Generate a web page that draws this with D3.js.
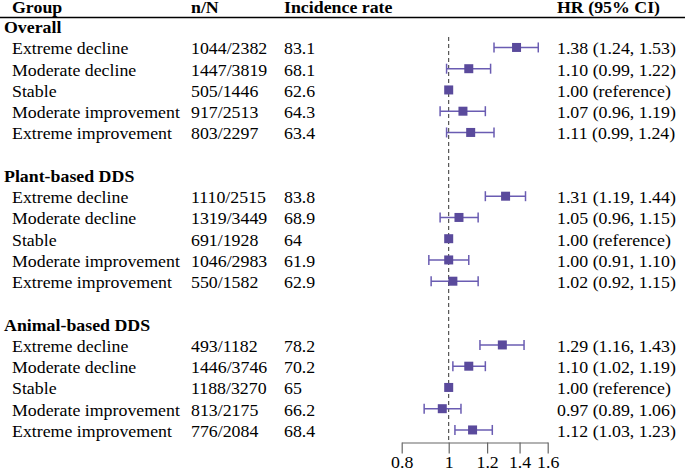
<!DOCTYPE html>
<html><head><meta charset="utf-8">
<script src="https://cdn.jsdelivr.net/npm/d3@7"></script>
<style>body{margin:0;background:#fff}svg{display:block}</style>
</head><body><div id="chart"></div>
<script>
const headers = ["Group", "n/N", "Incidence rate", "HR (95% CI)"];
const sections = ["Overall", "Plant-based DDS", "Animal-based DDS"];
const subgroups = ["Extreme decline", "Moderate decline", "Stable", "Moderate improvement", "Extreme improvement"];
const nN = [
  ["1044/2382", "1447/3819", "505/1446", "917/2513", "803/2297"],
  ["1110/2515", "1319/3449", "691/1928", "1046/2983", "550/1582"],
  ["493/1182", "1446/3746", "1188/3270", "813/2175", "776/2084"]
];
const incidence = [
  ["83.1", "68.1", "62.6", "64.3", "63.4"],
  ["83.8", "68.9", "64", "61.9", "62.9"],
  ["78.2", "70.2", "65", "66.2", "68.4"]
];
const hr = [
  [1.38, 1.10, 1.00, 1.07, 1.11],
  [1.31, 1.05, 1.00, 1.00, 1.02],
  [1.29, 1.10, 1.00, 0.97, 1.12]
];
const lower = [
  [1.24, 0.99, null, 0.96, 0.99],
  [1.19, 0.96, null, 0.91, 0.92],
  [1.16, 1.02, null, 0.89, 1.03]
];
const upper = [
  [1.53, 1.22, null, 1.19, 1.24],
  [1.44, 1.15, null, 1.10, 1.15],
  [1.43, 1.19, null, 1.06, 1.23]
];
const hrLabels = [
  ["1.38 (1.24, 1.53)", "1.10 (0.99, 1.22)", "1.00 (reference)", "1.07 (0.96, 1.19)", "1.11 (0.99, 1.24)"],
  ["1.31 (1.19, 1.44)", "1.05 (0.96, 1.15)", "1.00 (reference)", "1.00 (0.91, 1.10)", "1.02 (0.92, 1.15)"],
  ["1.29 (1.16, 1.43)", "1.10 (1.02, 1.19)", "1.00 (reference)", "0.97 (0.89, 1.06)", "1.12 (1.03, 1.23)"]
];
const tickValues = [0.8, 1, 1.2, 1.4, 1.6];
const tickLabels = ["0.8", "1", "1.2", "1.4", "1.6"];

const W = 685, H = 470;
const FS = 16, SX = 1.115;
const FONT = "'Liberation Serif', 'Times New Roman', serif";
const markColor = "#5a4a9c", lineColor = "#6a5cb2";
const svg = d3.select("#chart").append("svg").attr("width", W).attr("height", H)
  .style("font-family", FONT);

const rows = [];
sections.forEach((s, si) => {
  rows.push({type: "section", label: s});
  subgroups.forEach((g, gi) => rows.push({
    type: "row", label: g, nN: nN[si][gi], inc: incidence[si][gi],
    hr: hr[si][gi], lo: lower[si][gi], hi: upper[si][gi], hrl: hrLabels[si][gi]
  }));
  if (si < sections.length - 1) rows.push({type: "blank"});
});

const y = d3.scaleLinear().domain([0, rows.length - 1]).range([33, 33 + 21.25 * (rows.length - 1)]);
const x = d3.scaleLog().domain([0.8, 1.6]).range([401.7, 547.7]);

function txt(g, xp, yp, s, bold, anchor) {
  return g.append("text")
    .attr("transform", `translate(${xp},${yp}) scale(${SX},1)`)
    .style("font-family", FONT)
    .style("font-size", FS + "px")
    .style("font-weight", bold ? "bold" : "normal")
    .attr("text-anchor", anchor || "start")
    .attr("fill", "#000")
    .text(s);
}

const colX = [12, 191, 284, 557];
headers.forEach((h, i) => txt(svg, colX[i], 13, h, true));
svg.append("line").attr("x1", 0).attr("x2", W).attr("y1", 17.5).attr("y2", 17.5)
  .attr("stroke", "#000").attr("stroke-width", 1.5);

svg.append("line").attr("x1", x(1)).attr("x2", x(1)).attr("y1", 37).attr("y2", 442.5)
  .attr("stroke", "#333").attr("stroke-width", 1).attr("stroke-dasharray", "4,3");

rows.forEach((r, i) => {
  const by = y(i);
  if (r.type === "section") { txt(svg, 4, by, r.label, true); return; }
  if (r.type === "blank") return;
  txt(svg, colX[0], by, r.label, false);
  txt(svg, colX[1], by, r.nN, false);
  txt(svg, colX[2], by, r.inc, false);
  txt(svg, colX[3], by, r.hrl, false);
  const cy = by - 6.8;
  if (r.lo != null) {
    svg.append("line").attr("x1", x(r.lo)).attr("x2", x(r.hi)).attr("y1", cy).attr("y2", cy)
      .attr("stroke", lineColor).attr("stroke-width", 1.5);
    [r.lo, r.hi].forEach(v => svg.append("line").attr("x1", x(v)).attr("x2", x(v))
      .attr("y1", cy - 5).attr("y2", cy + 5).attr("stroke", lineColor).attr("stroke-width", 1.5));
  }
  svg.append("rect").attr("x", x(r.hr) - 4.5).attr("y", cy - 4.5).attr("width", 9).attr("height", 9)
    .attr("fill", markColor);
});

const axis = d3.axisBottom(x).tickValues(tickValues).tickFormat((d, i) => tickLabels[i])
  .tickSize(11).tickSizeOuter(0);
const ag = svg.append("g").attr("transform", "translate(0,442.5)").call(axis);
ag.attr("font-family", null).attr("font-size", null);
ag.select(".domain").attr("stroke", "#666").attr("stroke-width", 1.2);
ag.selectAll(".tick line").attr("stroke", "#666").attr("stroke-width", 1.2);
ag.selectAll(".tick text").style("font-size", FS + "px").style("font-family", FONT).attr("fill", "#000")
  .attr("y", 0).attr("dy", 0)
  .attr("transform", `translate(0,25) scale(${SX},1)`);
</script></body></html>
